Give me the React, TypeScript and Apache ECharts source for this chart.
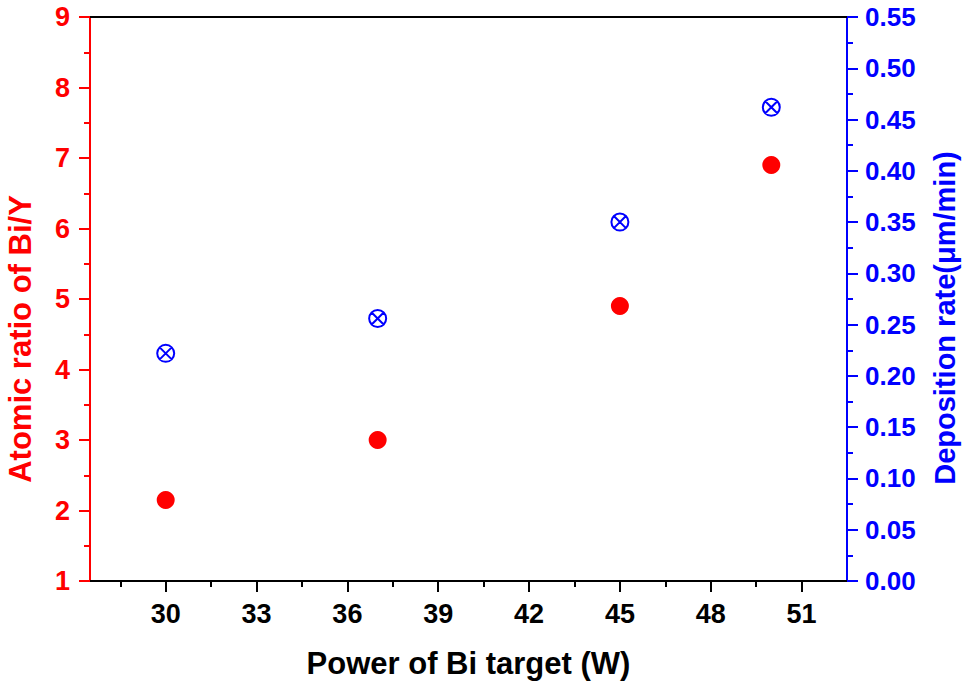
import React, { useEffect, useRef } from "react";
import * as echarts from "echarts";

const powerW = [30, 37, 45, 50];
const atomicRatio = [2.15, 3.0, 4.9, 6.9];
const depositionRate = [0.222, 0.256, 0.35, 0.462];
const xMajorTicks = [30, 33, 36, 39, 42, 45, 48, 51];
const xMinorTicks = [28.5, 31.5, 34.5, 37.5, 40.5, 43.5, 46.5, 49.5];

const FONT = "'Liberation Sans', Arial, sans-serif";
const RED = "#ff0000";
const BLUE = "#0000ff";

export default function App() {
  const ref = useRef<HTMLDivElement>(null);
  useEffect(() => {
    if (!ref.current) return;
    const chart = echarts.init(ref.current, undefined, { renderer: "svg" });
    const baseX = {
      type: "value",
      min: 27.5,
      max: 52.5,
      splitLine: { show: false },
    };
    chart.setOption({
      animation: false,
      backgroundColor: "#ffffff",
      grid: { left: 90, right: 116, top: 17, bottom: 105, containLabel: false, outerBoundsMode: "none" },
      xAxis: [
        {
          ...baseX,
          position: "bottom",
          name: "Power of Bi target (W)",
          nameLocation: "middle",
          nameGap: 67,
          nameTextStyle: { fontFamily: FONT, fontWeight: "bold", fontSize: 31, color: "#000" },
          axisLine: { show: true, onZero: false, lineStyle: { color: "#000", width: 2 } },
          axisTick: { show: true, inside: false, length: 11, customValues: xMajorTicks, lineStyle: { color: "#000", width: 2 } },
          axisLabel: { show: true, customValues: xMajorTicks, margin: 19, fontFamily: FONT, fontWeight: "bold", fontSize: 27, color: "#000" },
        },
        {
          ...baseX,
          position: "bottom",
          axisLine: { show: false, onZero: false },
          axisTick: { show: true, inside: false, length: 6, customValues: xMinorTicks, lineStyle: { color: "#000", width: 2 } },
          axisLabel: { show: false },
        },
        {
          ...baseX,
          position: "top",
          axisLine: { show: true, onZero: false, lineStyle: { color: "#000", width: 2 } },
          axisTick: { show: false },
          axisLabel: { show: false },
        },
      ],
      yAxis: [
        {
          type: "value",
          position: "left",
          min: 1,
          max: 9,
          interval: 1,
          name: "Atomic ratio of Bi/Y",
          nameLocation: "middle",
          nameRotate: 90,
          nameGap: 54,
          nameTextStyle: { fontFamily: FONT, fontWeight: "bold", fontSize: 31, color: RED, padding: [0, 80, 0, 0] },
          splitLine: { show: false },
          axisLine: { show: true, onZero: false, lineStyle: { color: RED, width: 2 } },
          axisTick: { show: true, inside: false, length: 11, lineStyle: { color: RED, width: 2 } },
          minorTick: { show: true, splitNumber: 2, length: 6, lineStyle: { color: RED, width: 2 } },
          axisLabel: { margin: 20, fontFamily: FONT, fontWeight: "bold", fontSize: 27, color: RED },
        },
        {
          type: "value",
          position: "right",
          min: 0,
          max: 0.55,
          interval: 0.05,
          name: "Deposition rate(μm/min)",
          nameLocation: "middle",
          nameRotate: 90,
          nameGap: 83,
          nameTextStyle: { fontFamily: FONT, fontWeight: "bold", fontSize: 29, color: BLUE, padding: [0, 38, 0, 0] },
          splitLine: { show: false },
          axisLine: { show: true, onZero: false, lineStyle: { color: BLUE, width: 2 } },
          axisTick: { show: true, inside: false, length: 11, lineStyle: { color: BLUE, width: 2 } },
          minorTick: { show: true, splitNumber: 2, length: 6, lineStyle: { color: BLUE, width: 2 } },
          axisLabel: {
            margin: 18,
            fontFamily: FONT,
            fontWeight: "bold",
            fontSize: 26,
            color: BLUE,
            formatter: (v: number) => v.toFixed(2),
          },
        },
      ],
      series: [
        {
          type: "scatter",
          xAxisIndex: 0,
          yAxisIndex: 0,
          symbol: "circle",
          symbolSize: 18,
          itemStyle: { color: RED, opacity: 1 },
          data: powerW.map((x, i) => [x, atomicRatio[i]]),
          z: 5,
        },
        {
          type: "scatter",
          xAxisIndex: 0,
          yAxisIndex: 1,
          symbol:
            "path://M10,0A10,10,0,1,1,10,20A10,10,0,1,1,10,0ZM2.93,2.93L17.07,17.07M17.07,2.93L2.93,17.07",
          symbolSize: 17,
          itemStyle: { color: "none", borderColor: BLUE, borderWidth: 2, opacity: 1 },
          data: powerW.map((x, i) => [x, depositionRate[i]]),
          z: 5,
        },
      ],
    });
    return () => chart.dispose();
  }, []);
  return (
    <div
      ref={ref}
      style={{ position: "absolute", left: 0, top: 0, width: 963, height: 686 }}
    />
  );
}
